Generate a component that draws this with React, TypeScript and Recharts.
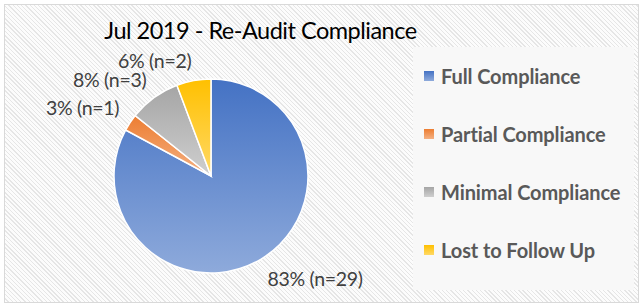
import { PieChart, Pie, Cell } from 'recharts'

const categories = ['Full Compliance', 'Partial Compliance', 'Minimal Compliance', 'Lost to Follow Up']
const counts = [29, 1, 3, 2]
const percentLabels = ['83%', '3%', '8%', '6%']

const colorTop = ['#4472c4', '#ed7d31', '#a5a5a5', '#ffc000']
const colorBottom = ['#8eaadb', '#f4b183', '#cfcfcf', '#ffd966']

const data = categories.map((name, i) => ({
	name,
	value: counts[i],
	label: `${percentLabels[i]} (n=${counts[i]})`,
}))

const RAD = Math.PI / 180

// place the label box corner nearest the pie just outside the slice, like Excel does
const renderLabel = (props: any) => {
	const { cx, cy, midAngle, outerRadius, index } = props
	const r = outerRadius + 13
	const cos = Math.cos(-midAngle * RAD)
	const sin = Math.sin(-midAngle * RAD)
	const x = cx + r * cos
	const y = cy + r * sin
	return (
		<text
			x={x}
			y={y}
			textAnchor={cos >= 0 ? 'start' : 'end'}
			dominantBaseline={sin >= 0 ? 'hanging' : 'auto'}
			fill='#404040'
			fontSize={19.5}
			fontFamily='Lato'
			letterSpacing={-0.3}
		>
			{data[index].label}
		</text>
	)
}

const LegendBox = () => (
	<div
		style={{
			position: 'absolute',
			left: 413,
			top: 47,
			width: 221,
			height: 243,
			background: '#f8f8f8',
		}}
	>
		{categories.map((c, i) => (
			<div
				key={c}
				style={{
					position: 'absolute',
					left: 11,
					top: 17 + i * 58,
					display: 'flex',
					alignItems: 'center',
					fontFamily: 'Lato',
					fontWeight: 700,
					fontSize: 20,
					letterSpacing: -0.1,
					color: '#595959',
					whiteSpace: 'nowrap',
				}}
			>
				<span
					style={{
						display: 'inline-block',
						width: 10,
						height: 10,
						marginRight: 7,
						background: `linear-gradient(${colorTop[i]}, ${colorBottom[i]})`,
					}}
				/>
				{c}
			</div>
		))}
	</div>
)

export default function App() {
	return (
		<div
			style={{
				position: 'fixed',
				left: 0,
				top: 0,
				width: 644,
				height: 307,
				background: '#ffffff',
			}}
		>
			<div
				style={{
					position: 'absolute',
					left: 4,
					top: 4,
					width: 633,
					height: 297,
					border: '1px solid #d9d9d9',
					background:
						'repeating-linear-gradient(45deg, #fcfcfc 0px, #fcfcfc 2px, #e6e6e6 2px, #e6e6e6 3px)',
				}}
			/>
			<LegendBox />
			<div
				style={{
					position: 'absolute',
					left: 0,
					width: 521,
					top: 16,
					textAlign: 'center',
					fontFamily: 'Lato',
					fontSize: 23.5,
					letterSpacing: -0.5,
					color: '#000000',
					whiteSpace: 'nowrap',
				}}
			>
				Jul 2019 - Re-Audit Compliance
			</div>
			<div style={{ position: 'absolute', left: 0, top: 0 }}>
				<PieChart width={644} height={307} margin={{ top: 0, right: 0, bottom: 0, left: 0 }}>
					<defs>
						{colorTop.map((c, i) => (
							<linearGradient key={i} id={`grad${i}`} x1='0' y1='0' x2='0' y2='1'>
								<stop offset='0%' stopColor={c} />
								<stop offset='100%' stopColor={colorBottom[i]} />
							</linearGradient>
						))}
					</defs>
					<Pie
						data={data}
						dataKey='value'
						nameKey='name'
						cx={211}
						cy={176}
						outerRadius={97}
						startAngle={90}
						endAngle={-270}
						stroke='#ffffff'
						strokeWidth={1.5}
						label={renderLabel}
						labelLine={false}
						isAnimationActive={false}
					>
						{data.map((d, i) => (
							<Cell key={d.name} fill={`url(#grad${i})`} />
						))}
					</Pie>
				</PieChart>
			</div>
		</div>
	)
}
